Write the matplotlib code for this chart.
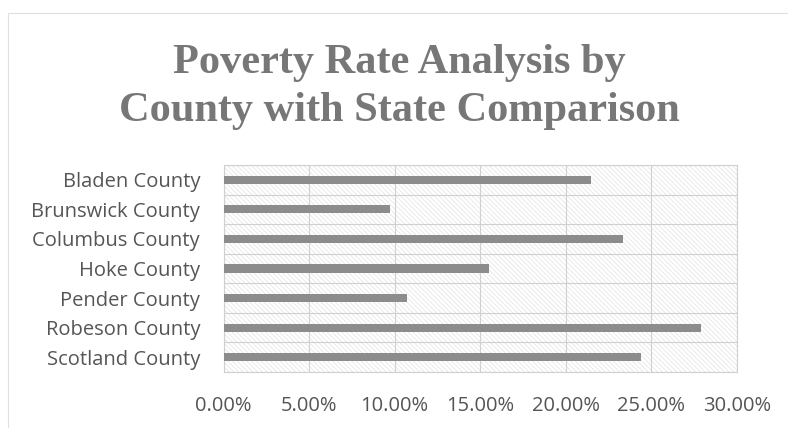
import matplotlib
matplotlib.use('Agg')
from matplotlib import pyplot as plt
from matplotlib.patches import Rectangle
from matplotlib.ticker import FuncFormatter, MultipleLocator
import numpy as np

counties = ['Bladen County', 'Brunswick County', 'Columbus County', 'Hoke County',
            'Pender County', 'Robeson County', 'Scotland County']
poverty_rate = [0.215, 0.097, 0.2335, 0.155, 0.107, 0.279, 0.244]

text_grey = '#555555'
plt.rcParams['hatch.color'] = '#e2e2e2'
plt.rcParams['hatch.linewidth'] = 0.5

fig = plt.figure(figsize=(7.88, 4.28), dpi=100)
ax = fig.add_axes([223.7 / 788, 1 - 372 / 428, (736.7 - 223.7) / 788, (372 - 165) / 428])

# hatched plot area background
ax.patch.set_hatch('\\' * 7)
ax.patch.set_edgecolor('#e2e2e2')
ax.patch.set_linewidth(0)

y = np.arange(len(counties))
ax.barh(y, poverty_rate, height=0.28, color='#8c8c8c', zorder=3)
ax.set_ylim(len(counties) - 0.5, -0.5)
ax.set_xlim(0, 0.30)
ax.set_yticks(y)
ax.set_yticklabels(counties)
ax.xaxis.set_major_locator(MultipleLocator(0.05))
ax.xaxis.set_major_formatter(FuncFormatter(lambda v, p: f'{v * 100:.2f}%'))

# category separators
for b in np.arange(-0.5, len(counties), 1):
    ax.axhline(b, color='#d0d0d0', lw=0.8, zorder=1)
ax.grid(axis='x', color='#d0d0d0', lw=0.8, zorder=1)
ax.set_axisbelow(True)

for s in ax.spines.values():
    s.set_color('#d0d0d0')
    s.set_linewidth(0.8)
ax.tick_params(length=0, labelsize=14.5, labelcolor=text_grey)
ax.tick_params(axis='y', pad=17)
ax.tick_params(axis='x', pad=17)
for lab in ax.get_xticklabels() + ax.get_yticklabels():
    lab.set_family('Open Sans')

fig.text(0.507, 1 - 87 / 428, 'Poverty Rate Analysis by\nCounty with State Comparison',
         ha='center', va='center', fontsize=30.5, color='#777777', fontweight='bold',
         family='Liberation Serif', linespacing=1.32)

# outer chart border
fig.patches.append(Rectangle((8 / 788, -0.05), 1.1, 1 - 13 / 428 + 0.05,
                             transform=fig.transFigure, fill=False,
                             edgecolor='#e0e0e0', lw=0.8))

fig.savefig('out.png', dpi=100)
